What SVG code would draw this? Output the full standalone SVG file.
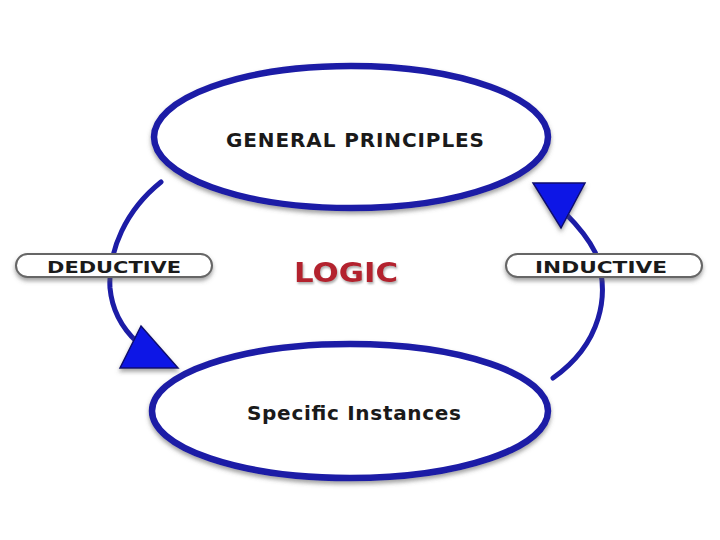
<svg xmlns="http://www.w3.org/2000/svg" width="720" height="540" viewBox="0 0 720 540">
<defs>
<filter id="sh" x="-20%" y="-20%" width="140%" height="160%"><feDropShadow dx="0" dy="3" stdDeviation="2" flood-color="#555" flood-opacity="0.55"/></filter>
<filter id="ts" x="-10%" y="-30%" width="120%" height="180%"><feDropShadow dx="1" dy="2" stdDeviation="1.2" flood-color="#777" flood-opacity="0.6"/></filter>
</defs>
<style>
.node{fill:#fff;stroke:#1c1ca6;stroke-width:6.5}
.lbl{font-family:"DejaVu Sans",Verdana,sans-serif;font-weight:bold;fill:#1a1a1a}
.pill{fill:#fff;stroke:#666;stroke-width:2}
.arc{fill:none;stroke:#1c1ca6;stroke-width:5;stroke-linecap:round}
.head{fill:#0c14e6;stroke:#101070;stroke-width:1.5}
</style>
<rect width="720" height="540" fill="#fff"/>
<g id="connectors">
<path class="arc" d="M161,182 C126,210 108,250 110,288 C112,310 122,328 137,342"/>
<polygon class="head" points="141,326 178,368 120,368" filter="url(#sh)"/>
<path class="arc" d="M553,378 C600,345 612,295 595,252 C588,238 578,226 566,214"/>
<polygon class="head" points="533,183 585,183 561,228" filter="url(#sh)"/>
</g>
<g id="general">
<ellipse class="node" cx="351" cy="137" rx="197" ry="71" filter="url(#sh)"/>
<text class="lbl" x="355" y="147" font-size="20" text-anchor="middle" textLength="258" lengthAdjust="spacing">GENERAL PRINCIPLES</text>
</g>
<g id="specific">
<ellipse class="node" cx="350" cy="411" rx="198" ry="67" filter="url(#sh)"/>
<text class="lbl" x="354" y="420" font-size="20" text-anchor="middle" textLength="214" lengthAdjust="spacing">Specific Instances</text>
</g>
<g id="deductive">
<rect class="pill" x="16" y="254" width="196" height="23" rx="11.5" filter="url(#sh)"/>
<text class="lbl" x="114" y="273" font-size="16.5" text-anchor="middle" textLength="134" lengthAdjust="spacingAndGlyphs">DEDUCTIVE</text>
</g>
<g id="inductive">
<rect class="pill" x="506" y="254" width="196" height="23" rx="11.5" filter="url(#sh)"/>
<text class="lbl" x="601" y="273" font-size="16.5" text-anchor="middle" textLength="132" lengthAdjust="spacingAndGlyphs">INDUCTIVE</text>
</g>
<g id="logic">
<text x="346" y="282" font-family="'DejaVu Sans',Verdana,sans-serif" font-weight="bold" font-size="27" fill="#b3202e" text-anchor="middle" textLength="104" lengthAdjust="spacingAndGlyphs" filter="url(#ts)">LOGIC</text>
</g>
</svg>
